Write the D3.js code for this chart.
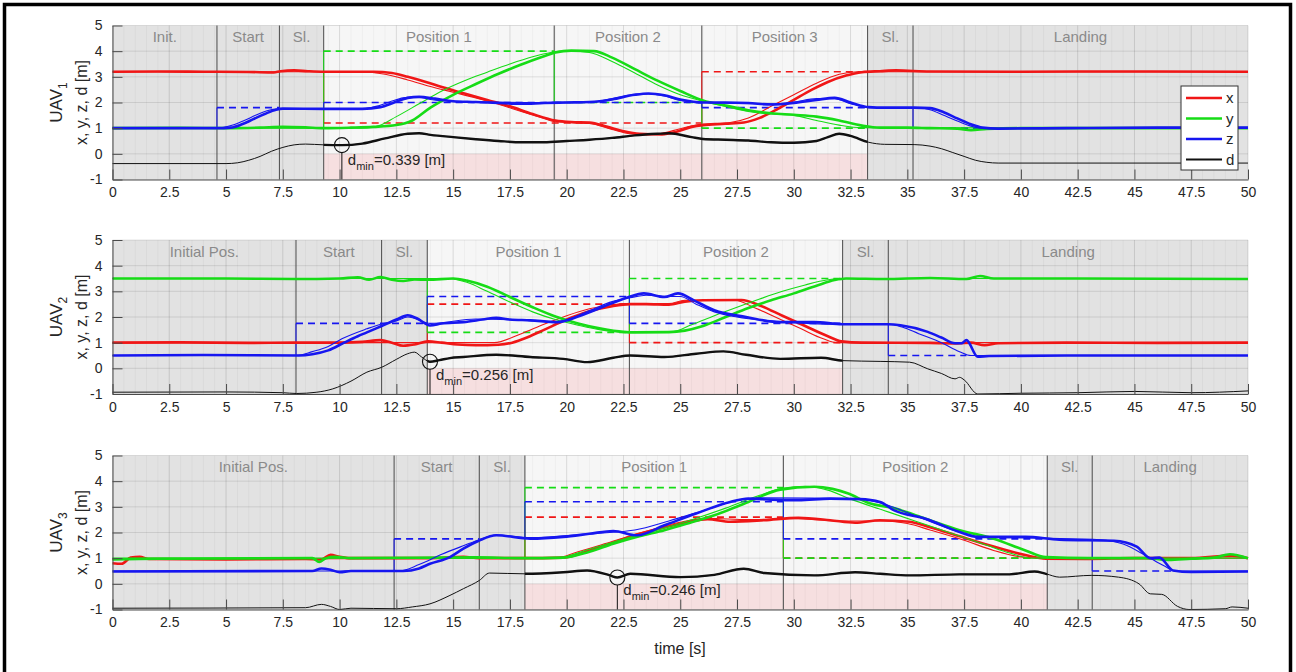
<!DOCTYPE html>
<html>
<head>
<meta charset="utf-8">
<script src="https://cdn.jsdelivr.net/npm/d3@7"></script>
<style>
  body { margin: 0; background: #fff; }
  svg { display: block; font-family: "Liberation Sans", Arial, Helvetica, sans-serif; }
</style>
</head>
<body>
<svg id="chart" width="1296" height="672"></svg>
<script>
// ---------- axis values ----------
const timeTicks = [0, 2.5, 5, 7.5, 10, 12.5, 15, 17.5, 20, 22.5, 25, 27.5, 30, 32.5, 35, 37.5, 40, 42.5, 45, 47.5, 50];
const valueTicks = [-1, 0, 1, 2, 3, 4, 5];
const legendKeys = ["x", "y", "z", "d"];

// ---------- UAV 1 ----------
const uav1Phases = [["Init.", 0, 4.6], ["Start", 4.6, 7.35], ["Sl.", 7.35, 9.3], ["Position 1", 9.3, 19.45],
  ["Position 2", 19.45, 25.95], ["Position 3", 25.95, 33.25], ["Sl.", 33.25, 35.25], ["Landing", 35.25, 50]];
const uav1X = [[0,3.2],[2,3.21],[4,3.2],[6,3.19],[7.1,3.17],[7.4,3.22],[8,3.25],[8.6,3.22],[9.3,3.2],[11.5,3.2],[12.3,3.15],[13,3.0],[13.8,2.8],[14.5,2.6],[15.5,2.35],[16.5,2.1],[17.5,1.85],[18.5,1.55],[19.5,1.3],[20.2,1.24],[21,1.22],[21.8,1.05],[22.5,0.88],[23.2,0.78],[24.2,0.76],[24.8,0.85],[25.5,1.05],[26,1.12],[27,1.17],[27.8,1.22],[28.5,1.4],[29.3,1.75],[30,2.1],[30.8,2.5],[31.5,2.8],[32.3,3.05],[33,3.18],[33.8,3.22],[34.5,3.25],[36,3.21],[40,3.2],[45,3.21],[50,3.2]];
const uav1XRef = [[0,3.2],[11,3.2],[12,3.1],[13,2.88],[14,2.62],[15,2.4],[16,2.18],[17,1.93],[18,1.65],[19,1.38],[19.5,1.25],[20.5,1.2],[21,1.18],[22,0.95],[22.8,0.78],[23.5,0.74],[24.2,0.8],[25,0.98],[25.9,1.15],[27.2,1.22],[28,1.4],[29,1.85],[30,2.3],[31,2.75],[32,3.1],[32.8,3.2],[50,3.2]];
const uav1Y = [[0,1.0],[3,1.01],[5,1.0],[6.5,1.02],[7.5,1.05],[8.5,1.03],[9.3,1.0],[10.5,1.02],[11.5,1.05],[12.5,1.12],[13.2,1.3],[14,1.8],[15,2.3],[16,2.72],[17,3.12],[18,3.48],[19,3.8],[19.5,3.95],[20.2,4.02],[21.2,4.0],[22,3.75],[23,3.3],[24,2.85],[25,2.45],[26,2.08],[27,1.88],[28,1.7],[29,1.58],[30,1.52],[31,1.45],[32,1.3],[33,1.1],[33.8,1.02],[35,1.02],[36,1.0],[37.2,0.98],[37.8,0.92],[38.5,0.97],[40,1.0],[50,1.0]];
const uav1YRef = [[0,1.0],[10.8,1.0],[11.6,1.06],[12.5,1.45],[13.5,1.95],[14.5,2.45],[15.5,2.85],[16.5,3.18],[17.5,3.5],[18.5,3.78],[19.3,3.95],[20,4.02],[21,3.95],[22,3.6],[23,3.15],[24,2.68],[25,2.3],[26,2.05],[27,1.85],[28,1.65],[29,1.55],[30,1.5],[31,1.3],[32,1.12],[33,1.02],[50,1.0]];
const uav1Z = [[0,1.0],[4.6,1.0],[5.2,1.02],[5.7,1.15],[6.2,1.35],[6.7,1.55],[7.2,1.72],[7.5,1.76],[9.3,1.75],[11,1.75],[11.8,1.82],[12.4,2.0],[13,2.18],[13.5,2.22],[14.2,2.15],[15,2.05],[16,2.02],[17,1.98],[18,1.95],[19,1.98],[20,2.0],[21,2.02],[22,2.12],[23,2.3],[23.6,2.35],[24.3,2.28],[25,2.12],[26,2.0],[27,2.0],[28,1.98],[29,1.92],[30,1.98],[31,2.1],[31.8,2.18],[32.5,2.0],[33.3,1.82],[34,1.8],[35.3,1.8],[36,1.78],[36.6,1.62],[37.2,1.38],[37.8,1.15],[38.3,1.02],[39,0.98],[42,1.0],[46,1.02],[50,1.02]];
const uav1ZRef = [[0,1.0],[4.6,1.0],[5.3,1.12],[5.8,1.3],[6.3,1.5],[6.8,1.68],[7.3,1.75],[11,1.75],[11.6,1.85],[12.2,2.02],[12.8,2.18],[13.4,2.22],[14,2.12],[15,2.05],[19,2.0],[21,2.0],[22,2.15],[23,2.32],[23.6,2.33],[24.3,2.25],[25,2.08],[26,2.0],[29,1.95],[30,2.02],[31,2.15],[31.8,2.15],[32.5,1.95],[33.3,1.8],[35.5,1.8],[36,1.72],[36.6,1.5],[37.2,1.28],[37.8,1.08],[38.3,1.0],[50,1.0]];
const uav1D = [[0,-0.38],[5,-0.38],[5.5,-0.35],[6,-0.25],[6.5,-0.1],[7,0.1],[7.5,0.25],[8,0.35],[8.5,0.38],[9.3,0.35],[10.1,0.339],[11,0.4],[12,0.6],[13,0.78],[13.5,0.8],[14,0.74],[15,0.65],[16,0.57],[17,0.5],[18,0.45],[19,0.45],[20,0.5],[21,0.55],[22,0.62],[23,0.72],[24,0.78],[24.5,0.8],[25.5,0.65],[26,0.58],[27,0.55],[28,0.52],[29,0.45],[30,0.43],[31,0.5],[31.5,0.65],[32,0.78],[32.5,0.7],[33.3,0.45],[34,0.37],[35.3,0.36],[36,0.3],[36.5,0.2],[37,0.05],[37.5,-0.1],[38,-0.25],[38.5,-0.33],[39,-0.36],[50,-0.36]];
const uav1XSet = [[9.3, 25.95, 1.2, 3.2], [25.95, 33.25, 3.2, 1.2]];
const uav1YSet = [[9.3, 19.45, 4.0, 1.0], [19.45, 25.95, 2.0, 4.0], [25.95, 33.25, 1.0, 2.0]];
const uav1ZSet = [[4.6, 7.35, 1.8, 1.0], [9.3, 25.95, 2.0, 1.8], [25.95, 33.25, 1.8, 2.0], [35.25, 38.5, 1.0, 1.8]];
const uav1Dmin = [10.1, 0.339];

// ---------- UAV 2 ----------
const uav2Phases = [["Initial Pos.", 0, 8.08], ["Start", 8.08, 11.85], ["Sl.", 11.85, 13.86], ["Position 1", 13.86, 22.76],
  ["Position 2", 22.76, 32.15], ["Sl.", 32.15, 34.16], ["Landing", 34.16, 50]];
const uav2X = [[0,1.0],[3,1.01],[6,0.99],[8,1.0],[10,1.0],[11,1.03],[11.8,1.1],[12.3,1.0],[12.8,0.88],[13.3,0.93],[13.9,1.05],[14.5,1.0],[15.2,0.93],[16,0.9],[17,0.92],[17.6,1.0],[18.3,1.22],[19,1.5],[20,1.9],[21,2.22],[22,2.42],[22.8,2.5],[23.5,2.5],[24.5,2.48],[25.2,2.6],[26,2.65],[27.7,2.66],[28.5,2.45],[29.5,2.05],[30.5,1.65],[31.5,1.25],[32.1,1.05],[33,1.0],[36,0.99],[37.2,0.97],[37.8,1.0],[38.4,0.9],[39,0.98],[42,1.0],[46,0.99],[50,1.0]];
const uav2XRef = [[0,1.0],[16.8,1.0],[18,1.35],[19,1.72],[20,2.05],[21,2.32],[22,2.48],[22.8,2.52],[24.5,2.52],[25.2,2.65],[27.4,2.65],[28.3,2.35],[29.3,1.95],[30.3,1.55],[31.3,1.15],[31.9,1.0],[50,1.0]];
const uav2Y = [[0,3.5],[5,3.5],[8,3.48],[10,3.5],[10.8,3.55],[11.3,3.45],[11.8,3.56],[12.3,3.45],[12.8,3.4],[13.3,3.46],[13.9,3.45],[15,3.5],[15.6,3.42],[16.5,3.18],[17.5,2.78],[18.5,2.38],[19.5,2.02],[20.5,1.75],[21.5,1.55],[22.5,1.42],[23,1.4],[24.5,1.41],[25.2,1.47],[26,1.65],[27,2.0],[28,2.35],[29,2.65],[30,2.92],[31,3.22],[31.8,3.44],[32.3,3.5],[34,3.48],[36,3.52],[37.6,3.48],[38.2,3.6],[38.8,3.5],[42,3.5],[50,3.48]];
const uav2YRef = [[0,3.5],[14.8,3.5],[15.6,3.35],[16.5,3.0],[17.5,2.58],[18.5,2.2],[19.5,1.9],[20.5,1.68],[21.5,1.5],[22.5,1.42],[24.6,1.42],[25.5,1.7],[26.5,2.05],[27.5,2.38],[28.5,2.7],[29.5,3.0],[30.5,3.25],[31.5,3.45],[32,3.5],[50,3.5]];
const uav2Z = [[0,0.5],[4,0.52],[8.2,0.5],[8.8,0.55],[9.5,0.7],[10.2,1.0],[10.8,1.25],[11.2,1.4],[11.85,1.65],[12.5,1.9],[13,2.07],[13.4,1.95],[13.98,1.67],[14.5,1.75],[15.45,1.8],[16.3,1.9],[16.9,1.97],[17.5,1.9],[18.4,1.87],[19.6,1.8],[20.6,2.05],[21.6,2.4],[22.65,2.75],[23.4,2.92],[24.3,2.78],[24.9,2.92],[25.6,2.65],[26.5,2.26],[27.9,2.0],[29.4,1.8],[30.9,1.8],[32.15,1.72],[34.16,1.72],[34.7,1.68],[35.9,1.42],[36.5,1.2],[37.1,0.98],[37.4,0.98],[37.6,1.1],[38.1,0.45],[38.6,0.48],[42,0.5],[50,0.5]];
const uav2ZRef = [[0,0.5],[8.1,0.5],[8.8,0.65],[9.5,0.85],[10.1,1.15],[11.2,1.54],[11.85,1.73],[12.5,1.85],[13,2.0],[14,1.75],[16,1.92],[18,1.88],[19.6,1.82],[21,2.25],[22,2.6],[22.8,2.75],[23.5,2.85],[24.5,2.8],[25,2.8],[25.7,2.5],[26.5,2.2],[27.5,2.0],[29.4,1.82],[32,1.72],[34.2,1.72],[34.8,1.6],[35.5,1.35],[36.5,1.0],[37.3,0.65],[37.8,0.5],[50,0.5]];
const uav2D = [[0,-0.93],[5,-0.92],[7.5,-0.95],[8.1,-0.98],[9,-0.93],[9.7,-0.8],[10.5,-0.5],[11.2,-0.15],[11.85,0.04],[12.5,0.35],[13,0.57],[13.3,0.63],[13.6,0.45],[13.98,0.256],[14.4,0.32],[14.86,0.4],[15.45,0.44],[16.9,0.53],[18.4,0.44],[19.85,0.37],[20.9,0.24],[22.05,0.41],[22.8,0.5],[24.3,0.44],[25.7,0.57],[26.9,0.66],[27.9,0.53],[29.4,0.37],[31.2,0.41],[32.15,0.3],[33.8,0.27],[35.1,0.24],[35.9,-0.02],[36.5,-0.2],[37.1,-0.41],[37.3,-0.35],[37.5,-0.45],[38.1,-1.0],[40,-0.97],[42.5,-0.95],[45,-0.9],[47.5,-0.95],[50,-0.88]];
const uav2XSet = [[13.86, 22.76, 2.5, 1.0], [22.76, 32.15, 1.0, 2.5]];
const uav2YSet = [[13.86, 22.76, 1.4, 3.5], [22.76, 32.15, 3.5, 1.4]];
const uav2ZSet = [[8.08, 13.86, 1.75, 0.5], [13.86, 22.76, 2.8, 1.75], [22.76, 32.15, 1.75, 2.8], [34.16, 37.6, 0.5, 1.75]];
const uav2Dmin = [13.98, 0.256];

// ---------- UAV 3 ----------
const uav3Phases = [["Initial Pos.", 0, 12.4], ["Start", 12.4, 16.15], ["Sl.", 16.15, 18.16], ["Position 1", 18.16, 29.54],
  ["Position 2", 29.54, 41.16], ["Sl.", 41.16, 43.14], ["Landing", 43.14, 50]];
const uav3X = [[0,0.8],[0.4,0.78],[0.8,1.02],[1.2,1.05],[1.6,0.97],[5,0.95],[8.5,0.97],[9.2,0.95],[9.6,1.13],[10,1.05],[10.5,1.0],[12.4,1.0],[14,1.0],[15.45,1.05],[16.15,1.0],[18,1.0],[19.85,1.02],[21,1.3],[22.05,1.6],[23,1.9],[24.3,2.2],[25.3,2.4],[26.2,2.52],[27.2,2.42],[28.7,2.48],[30.2,2.57],[31.6,2.48],[32.7,2.38],[33.8,2.48],[35.1,2.42],[36,2.2],[37.3,1.85],[38.8,1.45],[40.2,1.12],[41.1,0.98],[43,0.97],[45,1.0],[47.5,1.0],[49.3,1.1],[50,1.0]];
const uav3XRef = [[0,0.95],[19.5,1.0],[20.5,1.25],[22,1.65],[23.5,2.05],[25,2.4],[26.2,2.55],[28,2.5],[30,2.55],[32,2.45],[34,2.45],[35,2.35],[36,2.1],[37.5,1.7],[38.8,1.3],[40,1.05],[41,1.0],[50,1.0]];
const uav3Y = [[0,0.95],[2,0.98],[8.8,1.0],[9.1,0.85],[9.4,1.0],[9.8,1.05],[10.5,1.0],[16,1.03],[18,1.0],[19.85,1.02],[21,1.25],[22.05,1.56],[23.2,1.85],[24.3,2.09],[25.5,2.4],[26.5,2.67],[28,3.19],[29.4,3.67],[30.9,3.78],[31.7,3.7],[32.4,3.52],[33.3,3.15],[34.4,2.95],[35.8,2.54],[37.3,2.09],[38.8,1.76],[40.2,1.3],[41.1,1.04],[43,1.0],[45.5,1.0],[46.5,0.93],[47.5,0.98],[48.5,1.02],[49.2,1.15],[50,1.0]];
const uav3YRef = [[0,1.0],[19.5,1.0],[21,1.35],[22.5,1.75],[24,2.1],[25.5,2.5],[27,2.95],[28.5,3.45],[29.5,3.72],[30.5,3.8],[31.5,3.65],[32.5,3.3],[34,2.85],[35.5,2.4],[37,1.95],[38.5,1.5],[39.5,1.2],[40.5,1.0],[50,1.0]];
const uav3Z = [[0,0.48],[8.8,0.5],[9.2,0.6],[9.6,0.55],[10,0.45],[10.5,0.5],[12.8,0.5],[13.5,0.6],[13.98,0.78],[14.86,1.04],[15.45,1.37],[16.15,1.69],[16.9,1.89],[18.4,1.76],[19.85,1.83],[21,1.95],[22.05,2.06],[23.1,1.89],[24.3,2.28],[25.7,2.74],[27.2,3.19],[28,3.32],[29,3.28],[30.2,3.26],[31.6,3.32],[32.9,3.3],[33.8,3.19],[34.4,2.87],[35.8,2.54],[37.3,2.02],[38.1,1.83],[40.2,1.83],[41.7,1.72],[44.1,1.68],[45.1,1.45],[45.7,1.0],[46.1,1.02],[46.7,0.52],[47.5,0.46],[50,0.48]];
const uav3ZRef = [[0,0.5],[12.6,0.5],[13.5,0.75],[14.5,1.15],[15.5,1.5],[16.15,1.72],[16.9,1.9],[18.4,1.8],[21,1.95],[23,2.1],[24.5,2.45],[26,2.85],[27.5,3.25],[28.5,3.35],[33,3.3],[34,3.1],[35.5,2.6],[37,2.1],[38.2,1.83],[41,1.78],[43.5,1.72],[44.5,1.55],[45.5,1.1],[46.3,0.7],[46.8,0.5],[50,0.5]];
const uav3D = [[0,-0.95],[8.5,-0.93],[9.2,-0.8],[9.6,-0.88],[10,-1.0],[10.5,-0.95],[12.5,-0.97],[13.2,-0.9],[13.98,-0.78],[14.86,-0.45],[15.45,-0.19],[16.15,0.13],[16.6,0.42],[18.16,0.39],[19.85,0.45],[20.9,0.52],[21.9,0.33],[22.23,0.246],[22.8,0.39],[25,0.26],[26.5,0.35],[27.8,0.59],[28.7,0.42],[30.9,0.33],[32.7,0.45],[33.8,0.39],[35.1,0.33],[37.3,0.37],[39.5,0.37],[40.6,0.48],[41.1,0.39],[41.7,0.26],[43.1,0.33],[44.3,0.26],[45.2,0.0],[45.7,-0.39],[46.2,-0.41],[46.9,-0.88],[47.4,-1.0],[49,-0.97],[49.3,-0.9],[50,-0.95]];
const uav3XSet = [[18.16, 29.54, 2.6, 1.0], [29.54, 41.16, 1.0, 2.6]];
const uav3YSet = [[18.16, 29.54, 3.75, 1.0], [29.54, 41.16, 1.0, 3.75]];
const uav3ZSet = [[12.4, 16.15, 1.75, 0.5], [18.16, 29.54, 3.2, 1.75], [29.54, 41.16, 1.75, 3.2], [43.14, 46.8, 0.5, 1.75]];
const uav3Dmin = [22.23, 0.246];

// ---------- drawing ----------
const COLOR = { x: "#f01616", y: "#16dc16", z: "#1616f0", d: "#111111" };

const panels = [
  { top: 25.5, sub: "1", phases: uav1Phases, series: { x: [uav1X, uav1XRef, uav1XSet], y: [uav1Y, uav1YRef, uav1YSet], z: [uav1Z, uav1ZRef, uav1ZSet] }, d: uav1D, dmin: uav1Dmin, legend: true },
  { top: 240, sub: "2", phases: uav2Phases, series: { x: [uav2X, uav2XRef, uav2XSet], y: [uav2Y, uav2YRef, uav2YSet], z: [uav2Z, uav2ZRef, uav2ZSet] }, d: uav2D, dmin: uav2Dmin, legend: false },
  { top: 455.5, sub: "3", phases: uav3Phases, series: { x: [uav3X, uav3XRef, uav3XSet], y: [uav3Y, uav3YRef, uav3YSet], z: [uav3Z, uav3ZRef, uav3ZSet] }, d: uav3D, dmin: uav3Dmin, legend: false }
];

const svg = d3.select("#chart");
const PH = 154;
const X = d3.scaleLinear().domain([0, 50]).range([112.5, 1248]);
const isPos = ph => ph[0].startsWith("Position");

// outer frame
svg.append("rect").attr("x", 4.5).attr("y", 4.5).attr("width", 1286).attr("height", 720)
  .attr("fill", "none").attr("stroke", "#000").attr("stroke-width", 3.5);

panels.forEach((p, i) => {
  const Y = d3.scaleLinear().domain([-1, 5]).range([p.top + PH, p.top]);
  const g = svg.append("g");
  const line = d3.line().x(d => X(d[0])).y(d => Y(d[1])).curve(d3.curveMonotoneX);

  // phase backgrounds
  g.append("rect").attr("x", X(0)).attr("y", Y(5)).attr("width", X(50) - X(0)).attr("height", Y(-1) - Y(5)).attr("fill", "#e2e2e2");
  const pos = p.phases.filter(isPos);
  pos.forEach(ph => {
    g.append("rect").attr("x", X(ph[1])).attr("y", Y(5)).attr("width", X(ph[2]) - X(ph[1])).attr("height", Y(0) - Y(5)).attr("fill", "#f6f6f6");
    g.append("rect").attr("x", X(ph[1])).attr("y", Y(0)).attr("width", X(ph[2]) - X(ph[1])).attr("height", Y(-1) - Y(0)).attr("fill", "#f6dfe0");
  });

  // grid
  const grid = g.append("g").attr("stroke", "#262626");
  d3.range(0, 50.01, 0.5).forEach(t => grid.append("line").attr("x1", X(t)).attr("x2", X(t)).attr("y1", Y(5)).attr("y2", Y(-1)).attr("stroke-opacity", 0.035));
  timeTicks.forEach(t => grid.append("line").attr("x1", X(t)).attr("x2", X(t)).attr("y1", Y(5)).attr("y2", Y(-1)).attr("stroke-opacity", 0.1));
  valueTicks.forEach(v => grid.append("line").attr("x1", X(0)).attr("x2", X(50)).attr("y1", Y(v)).attr("y2", Y(v)).attr("stroke-opacity", 0.12));

  // phase boundaries and names
  p.phases.slice(1).forEach(ph => g.append("line").attr("x1", X(ph[1])).attr("x2", X(ph[1])).attr("y1", Y(5)).attr("y2", Y(-1)).attr("stroke", "#4a4a4a").attr("stroke-width", 1));
  p.phases.forEach(ph => g.append("text").attr("x", X((ph[1] + ph[2]) / 2)).attr("y", p.top + 16.5)
    .attr("text-anchor", "middle").attr("font-size", 15).attr("fill", "#8a8a8a").text(ph[0]));

  // set-points (dashed) with thin step connectors
  ["x", "y", "z"].forEach(k => {
    p.series[k][2].forEach(s => {
      if (s[3] != null) g.append("line").attr("x1", X(s[0])).attr("x2", X(s[0])).attr("y1", Y(s[3])).attr("y2", Y(s[2]))
        .attr("stroke", COLOR[k]).attr("stroke-width", 1);
      g.append("line").attr("x1", X(s[0])).attr("x2", X(s[1])).attr("y1", Y(s[2])).attr("y2", Y(s[2]))
        .attr("stroke", COLOR[k]).attr("stroke-width", 1.6).attr("stroke-dasharray", "7,5");
    });
  });

  // reference (thin) and measured (thick) trajectories
  ["x", "y", "z"].forEach(k => {
    g.append("path").datum(p.series[k][1]).attr("d", line).attr("fill", "none").attr("stroke", COLOR[k]).attr("stroke-width", 1.1);
    g.append("path").datum(p.series[k][0]).attr("d", line).attr("fill", "none").attr("stroke", COLOR[k]).attr("stroke-width", 2.6).attr("stroke-linejoin", "round");
  });

  // distance d: thin everywhere, thick while positioning
  const posStart = d3.min(pos, ph => ph[1]), posEnd = d3.max(pos, ph => ph[2]);
  const clipId = "dclip" + i;
  svg.append("clipPath").attr("id", clipId).append("rect")
    .attr("x", X(posStart)).attr("y", Y(5)).attr("width", X(posEnd) - X(posStart)).attr("height", Y(-1) - Y(5));
  g.append("path").datum(p.d).attr("d", line).attr("fill", "none").attr("stroke", COLOR.d).attr("stroke-width", 1);
  g.append("path").datum(p.d).attr("d", line).attr("fill", "none").attr("stroke", COLOR.d).attr("stroke-width", 2.4).attr("clip-path", `url(#${clipId})`);

  // d_min marker
  const cx = X(p.dmin[0]), cy = Y(p.dmin[1]), r = 7.5;
  g.append("circle").attr("cx", cx).attr("cy", cy).attr("r", r).attr("fill", "none").attr("stroke", "#111").attr("stroke-width", 1.1);
  g.append("line").attr("x1", cx).attr("x2", cx).attr("y1", cy + r).attr("y2", Y(-1)).attr("stroke", "#111").attr("stroke-width", 1);
  const lbl = g.append("text").attr("x", cx + 6).attr("y", Y(-0.44)).attr("font-size", 15).attr("fill", "#262626");
  lbl.append("tspan").text("d");
  lbl.append("tspan").attr("font-size", 11).attr("dy", 5).text("min");
  lbl.append("tspan").attr("dy", -5).text("=" + p.dmin[1].toFixed(3) + " [m]");

  // axes
  const xAxis = d3.axisBottom(X).tickValues(timeTicks).tickFormat(d => String(d)).tickSize(-10).tickSizeOuter(0).tickPadding(8);
  const yAxis = d3.axisLeft(Y).tickValues(valueTicks).tickFormat(d => String(d)).tickSize(-10).tickSizeOuter(0).tickPadding(10);
  const ax = g.append("g").attr("transform", `translate(0,${Y(-1)})`).call(xAxis);
  const ay = g.append("g").attr("transform", `translate(${X(0)},0)`).call(yAxis);
  [ax, ay].forEach(a => {
    a.attr("font-family", null).attr("font-size", null);
    a.select(".domain").attr("stroke", "#4a4a4a");
    a.selectAll(".tick line").attr("stroke", "#4a4a4a");
    a.selectAll(".tick text").attr("font-size", 14).attr("fill", "#262626");
  });

  // y label
  const midY = p.top + PH / 2;
  const t1 = g.append("text").attr("transform", `translate(62,${midY}) rotate(-90)`).attr("text-anchor", "middle")
    .attr("font-size", 17).attr("fill", "#262626");
  t1.append("tspan").text("UAV");
  t1.append("tspan").attr("font-size", 12).attr("dy", 5).text(p.sub);
  g.append("text").attr("transform", `translate(87,${midY}) rotate(-90)`).attr("text-anchor", "middle")
    .attr("font-size", 16).attr("fill", "#262626").text("x, y, z, d [m]");

  // legend
  if (p.legend) {
    const lg = g.append("g");
    lg.append("rect").attr("x", 1181).attr("y", 86).attr("width", 57).attr("height", 84).attr("fill", "#fff").attr("stroke", "#333").attr("stroke-width", 1);
    legendKeys.forEach((k, j) => {
      const yy = 98 + j * 20.5;
      lg.append("line").attr("x1", 1186).attr("x2", 1222).attr("y1", yy).attr("y2", yy)
        .attr("stroke", COLOR[k]).attr("stroke-width", k === "d" ? 2 : 2.6);
      lg.append("text").attr("x", 1226).attr("y", yy + 5).attr("font-size", 15).attr("fill", "#262626").text(k);
    });
  }
});

// shared time label
svg.append("text").attr("x", 680).attr("y", 654).attr("text-anchor", "middle").attr("font-size", 16).attr("fill", "#262626").text("time [s]");
</script>
</body>
</html>
